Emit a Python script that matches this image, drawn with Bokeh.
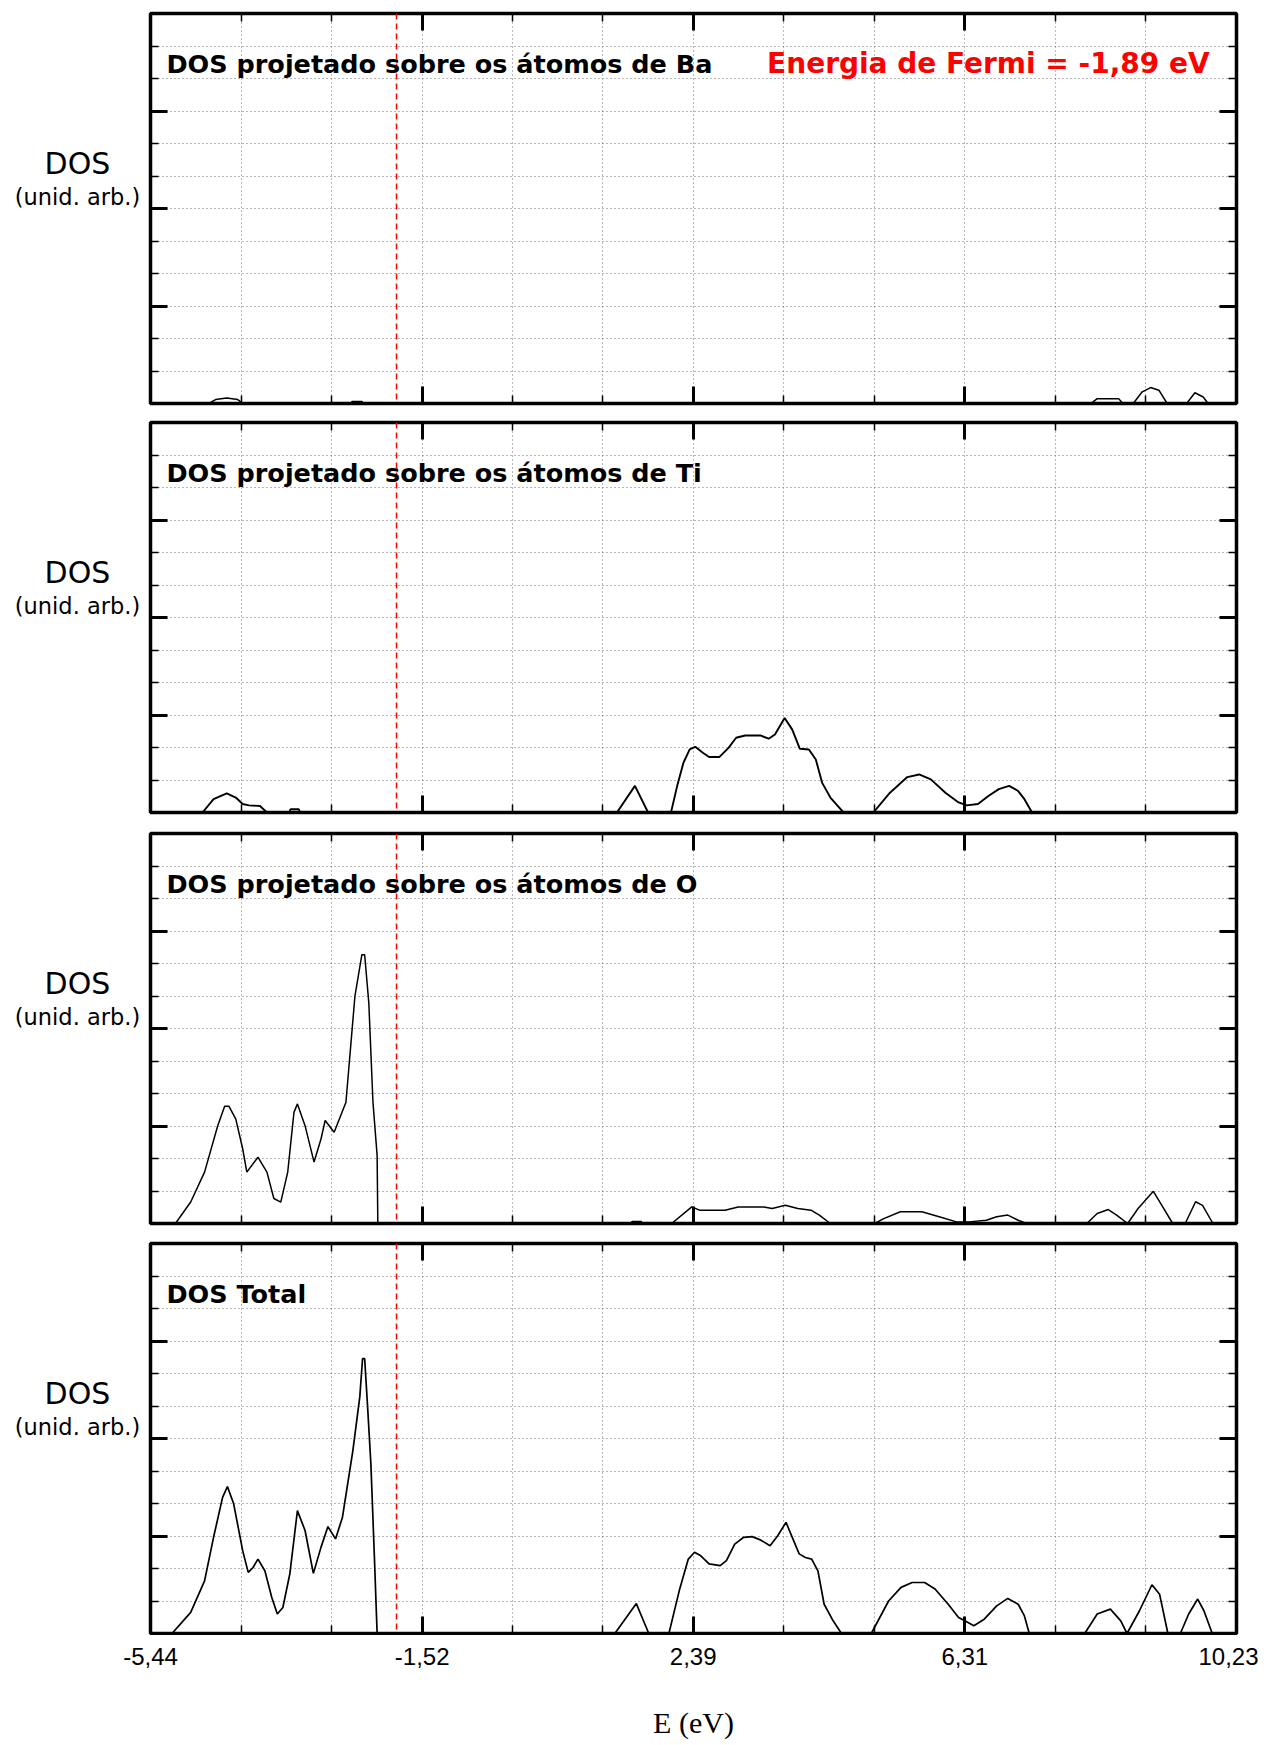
from bokeh.plotting import figure
from bokeh.layouts import column, row
from bokeh.models import Range1d, LinearAxis, FixedTicker, Span, Label
from bokeh.embed import file_html
from bokeh.resources import INLINE

# ---------------- data ----------------
E_MIN, E_MAX = -5.44, 10.23
major_e = [-5.44, -1.52, 2.39, 6.31, 10.23]
major_e_labels = ["-5,44", "-1,52", "2,39", "6,31", "10,23"]
y_major = [3, 6, 9]
y_minor = [1, 2, 4, 5, 7, 8, 10, 11]
y_grid = [1, 2, 3, 4, 5, 6, 7, 8, 9, 10, 11]
fermi_e = -1.89
fermi_label = "Energia de Fermi = -1,89 eV"
titles = ["DOS projetado sobre os átomos de Ba",
          "DOS projetado sobre os átomos de Ti",
          "DOS projetado sobre os átomos de O",
          "DOS Total"]
ylabel_main = "DOS"
ylabel_sub = "(unid. arb.)"
xlabel = "E (eV)"

ba_e = [-4.60, -4.50, -4.34, -4.18, -4.11,
        -2.55, -2.53, -2.39, -2.37,
        8.13, 8.22, 8.53, 8.59,
        8.74, 8.87, 8.99, 9.11, 9.23,
        9.51, 9.63, 9.75, 9.82]
ba_dos = [0, 0.12, 0.17, 0.12, 0,
          0, 0.06, 0.06, 0,
          0, 0.15, 0.15, 0,
          0, 0.36, 0.49, 0.41, 0,
          0, 0.33, 0.20, 0]

ti_e = [-4.69, -4.53, -4.34, -4.21, -4.11, -4.02, -3.86, -3.76,
        -3.44, -3.42, -3.30, -3.28,
        1.29, 1.55, 1.74,
        2.07, 2.16, 2.25, 2.34, 2.42, 2.53, 2.62, 2.77, 2.90, 3.01, 3.14,
        3.36, 3.48, 3.57, 3.71, 3.82, 3.93, 4.06, 4.16, 4.25, 4.37, 4.56,
        4.99, 5.23, 5.48, 5.65, 5.82, 6.03, 6.22, 6.34, 6.50, 6.65, 6.80,
        6.95, 7.08, 7.17, 7.28]
ti_dos = [0, 0.41, 0.59, 0.46, 0.26, 0.22, 0.20, 0,
          0, 0.10, 0.10, 0,
          0, 0.82, 0,
          0, 0.82, 1.53, 1.94, 2.02, 1.84, 1.71, 1.71, 1.99, 2.30, 2.37,
          2.37, 2.27, 2.40, 2.91, 2.55, 1.96, 1.94, 1.63, 0.92, 0.46, 0,
          0, 0.61, 1.09, 1.17, 1.02, 0.61, 0.31, 0.22, 0.26, 0.51, 0.72,
          0.82, 0.66, 0.41, 0]

o_e = [-5.08, -4.86, -4.66, -4.47, -4.37, -4.31, -4.21, -4.11, -4.05, -3.89,
       -3.76, -3.66, -3.56, -3.46, -3.37, -3.32, -3.21, -3.08, -2.98, -2.92,
       -2.79, -2.62, -2.49, -2.39, -2.35, -2.29, -2.23, -2.17, -2.16,
       1.49, 1.51, 1.64, 1.66,
       2.08, 2.37, 2.48, 2.85, 3.04, 3.41, 3.53, 3.72, 3.90, 4.09, 4.21, 4.37,
       5.01, 5.14, 5.38, 5.69, 5.94, 6.19, 6.37, 6.62, 6.77, 6.93, 7.08, 7.20,
       8.07, 8.22, 8.38, 8.50, 8.66, 8.81, 9.03, 9.12, 9.31, 9.49, 9.64, 9.74, 9.89]
o_dos = [0, 0.66, 1.58, 3.01, 3.61, 3.61, 3.22, 2.30, 1.58, 2.04,
         1.58, 0.77, 0.66, 1.58, 3.42, 3.68, 3.01, 1.89, 2.60, 3.17,
         2.81, 3.73, 7.00, 8.27, 8.27, 6.79, 3.73, 2.09, 0,
         0, 0.06, 0.06, 0,
         0, 0.51, 0.41, 0.41, 0.51, 0.51, 0.46, 0.56, 0.46, 0.41, 0.26, 0,
         0, 0.15, 0.36, 0.36, 0.21, 0.05, 0.05, 0.10, 0.21, 0.26, 0.10, 0,
         0, 0.31, 0.43, 0.26, 0, 0.46, 0.99, 0.67, 0, 0, 0.67, 0.56, 0]

tot_e = [-5.13, -4.86, -4.66, -4.53, -4.40, -4.33, -4.24, -4.11, -4.03, -3.96,
         -3.89, -3.79, -3.69, -3.61, -3.53, -3.43, -3.32, -3.21, -3.09, -2.98,
         -2.88, -2.77, -2.67, -2.52, -2.42, -2.38, -2.35, -2.31, -2.26, -2.21, -2.17,
         1.26, 1.57, 1.75,
         2.04, 2.19, 2.32, 2.41, 2.50, 2.62, 2.78, 2.87, 2.99, 3.12, 3.24, 3.36,
         3.50, 3.61, 3.73, 3.82, 3.92, 4.01, 4.10, 4.19, 4.28, 4.41, 4.53,
         4.96, 5.21, 5.39, 5.55, 5.73, 5.88, 6.07, 6.22, 6.31, 6.44, 6.59, 6.77,
         6.93, 7.08, 7.17, 7.24,
         8.04, 8.22, 8.41, 8.56, 8.65, 8.83, 9.01, 9.12, 9.24, 9.42, 9.54, 9.67,
         9.76, 9.88]
tot_dos = [0, 0.65, 1.62, 2.96, 4.19, 4.52, 3.99, 2.55, 1.88, 2.03,
           2.29, 1.93, 1.11, 0.60, 0.80, 1.83, 3.78, 3.17, 1.85, 2.65,
           3.29, 2.91, 3.58, 5.63, 7.28, 8.46, 8.46, 7.07, 5.22, 2.39, 0,
           0, 0.92, 0,
           0, 1.32, 2.29, 2.50, 2.39, 2.14, 2.09, 2.24, 2.75, 2.96, 2.98, 2.88,
           2.70, 3.01, 3.42, 2.96, 2.45, 2.34, 2.29, 1.93, 0.90, 0.39, 0,
           0, 1.00, 1.42, 1.57, 1.57, 1.37, 0.90, 0.49, 0.39, 0.24, 0.44, 0.85,
           1.08, 0.90, 0.54, 0,
           0, 0.60, 0.75, 0.39, 0, 0.70, 1.50, 1.21, 0, 0, 0.60, 1.06,
           0.70, 0]

series = [(ba_e, ba_dos), (ti_e, ti_dos), (o_e, o_dos), (tot_e, tot_dos)]
line_widths = [1.5, 1.9, 1.5, 1.7]

# ---------------- layout / style ----------------
FRAME_W, FRAME_H = 1086, 390
LABEL_W = 148
borders_top = [13, 5, 5, 5]
borders_bottom = [14, 16, 15, 2]

minor_e = []
for a, b in zip(major_e[:-1], major_e[1:]):
    step = (b - a) / 3.0
    minor_e += [a + step, a + 2 * step]
grid_e = sorted(major_e[1:-1] + minor_e)


def style_axis(ax, ticker):
    ax.ticker = ticker
    ax.axis_line_color = None
    ax.major_tick_in = 17
    ax.major_tick_out = 0
    ax.minor_tick_in = 8
    ax.minor_tick_out = 0
    ax.major_tick_line_width = 3
    ax.minor_tick_line_width = 1.5
    ax.major_tick_line_color = "black"
    ax.minor_tick_line_color = "black"
    ax.major_label_text_color = None
    ax.major_label_text_alpha = 0
    ax.major_label_text_font_size = "1px"
    ax.major_label_standoff = 0


rows = []
for i, ((e, dos), title, lw) in enumerate(zip(series, titles, line_widths)):
    # side figure holding the y label texts
    lf = figure(frame_width=LABEL_W, frame_height=FRAME_H,
                x_range=Range1d(0, LABEL_W), y_range=Range1d(0, 12),
                x_axis_type=None, y_axis_type=None,
                output_backend="svg", toolbar_location=None,
                min_border_left=0, min_border_right=0,
                min_border_top=borders_top[i], min_border_bottom=borders_bottom[i],
                background_fill_color="white", border_fill_color="white")
    lf.outline_line_color = None
    lf.grid.visible = False
    lf.add_layout(Label(x=77, y=7.4, text=ylabel_main, text_font="DejaVu Sans",
                        text_font_size="30px", text_color="black",
                        text_align="center", text_baseline="middle"))
    lf.add_layout(Label(x=77, y=6.34, text=ylabel_sub, text_font="DejaVu Sans",
                        text_font_size="22.5px", text_color="black",
                        text_align="center", text_baseline="middle"))

    p = figure(frame_width=FRAME_W, frame_height=FRAME_H,
               x_range=Range1d(E_MIN, E_MAX), y_range=Range1d(0, 12),
               output_backend="svg", toolbar_location=None,
               min_border_left=2, min_border_right=22,
               min_border_top=borders_top[i], min_border_bottom=borders_bottom[i],
               background_fill_color="white", border_fill_color="white")
    p.outline_line_color = "black"
    p.outline_line_width = 3.5
    p.outline_line_alpha = 1.0

    style_axis(p.xaxis[0], FixedTicker(ticks=major_e, minor_ticks=minor_e))
    style_axis(p.yaxis[0], FixedTicker(ticks=y_major, minor_ticks=y_minor))
    top_ax = LinearAxis()
    style_axis(top_ax, FixedTicker(ticks=major_e, minor_ticks=minor_e))
    p.add_layout(top_ax, "above")
    right_ax = LinearAxis()
    style_axis(right_ax, FixedTicker(ticks=y_major, minor_ticks=y_minor))
    p.add_layout(right_ax, "right")

    p.xgrid.ticker = FixedTicker(ticks=grid_e)
    p.ygrid.ticker = FixedTicker(ticks=y_grid)
    for g in (p.xgrid, p.ygrid):
        g.grid_line_color = "#6e6e6e"
        g.grid_line_dash = "1 3"
        g.grid_line_width = 1

    p.add_layout(Span(location=fermi_e, dimension="height", line_color="#ff0000",
                      line_dash="6 4", line_width=1.5))

    p.line(e, dos, line_color="black", line_width=lw)

    p.add_layout(Label(x=-5.21, y=10.45, text=title, text_font="DejaVu Sans",
                       text_font_style="bold", text_font_size="25.5px",
                       text_color="black", text_baseline="middle"))
    if i == 0:
        p.add_layout(Label(x=6.65, y=10.45, text=fermi_label, text_font="DejaVu Sans",
                           text_font_style="bold", text_font_size="28px",
                           text_color="#ff0000", text_align="center",
                           text_baseline="middle"))
    rows.append(row(lf, p, spacing=0))

# ---------------- shared energy axis (tick labels + title) ----------------
axf = figure(frame_width=FRAME_W, frame_height=1,
             x_range=Range1d(E_MIN, E_MAX), y_range=Range1d(0, 1),
             y_axis_type=None, output_backend="svg", toolbar_location=None,
             min_border_left=LABEL_W + 2, min_border_right=22,
             min_border_top=0, min_border_bottom=2,
             background_fill_color="white", border_fill_color="white")
axf.outline_line_color = None
axf.grid.visible = False
xa = axf.xaxis[0]
xa.ticker = FixedTicker(ticks=major_e, minor_ticks=[])
xa.axis_line_color = None
xa.major_tick_in = 0
xa.major_tick_out = 0
xa.minor_tick_in = 0
xa.minor_tick_out = 0
xa.major_label_overrides = dict(zip(major_e, major_e_labels))
xa.major_label_text_font = "Liberation Sans"
xa.major_label_text_font_size = "24px"
xa.major_label_text_color = "black"
xa.major_label_standoff = 11
xa.axis_label = xlabel
xa.axis_label_text_font = "Liberation Serif"
xa.axis_label_text_font_size = "30px"
xa.axis_label_text_font_style = "normal"
xa.axis_label_text_color = "black"
xa.axis_label_standoff = 38

layout = column(*rows, axf, spacing=0)
open("out.html", "w").write(file_html(layout, INLINE))
